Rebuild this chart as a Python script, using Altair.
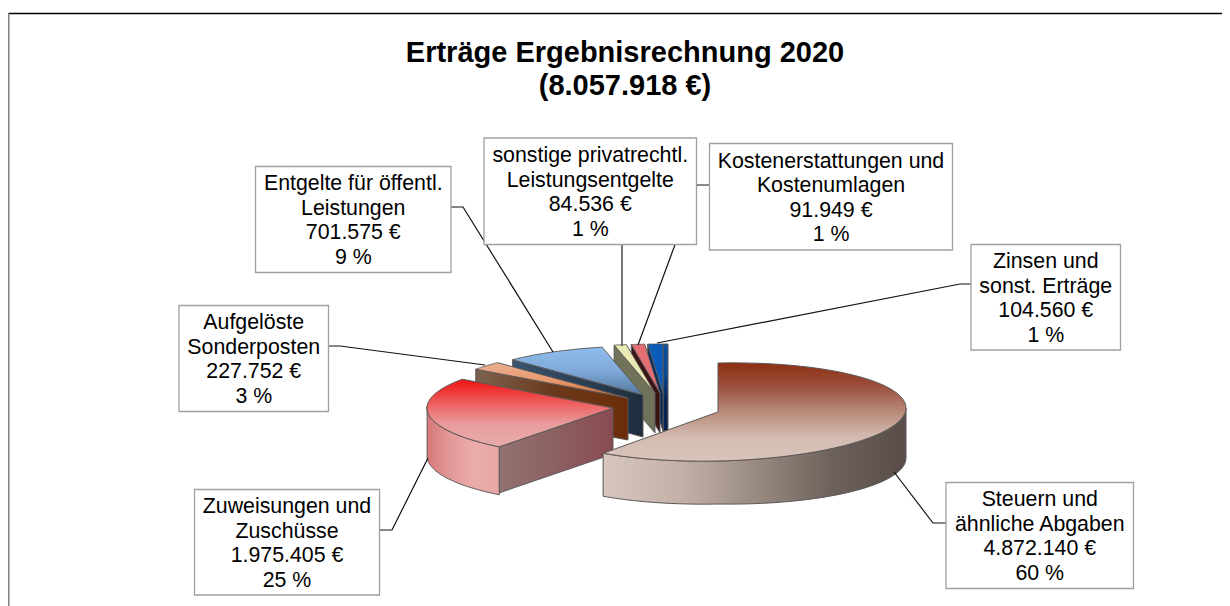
import math
import altair as alt

TITLE = "Erträge Ergebnisrechnung 2020\n(8.057.918 €)"
CATEGORIES = ["Steuern und\nähnliche Abgaben", "Zuweisungen und\nZuschüsse", "Aufgelöste\nSonderposten",
              "Entgelte für öffentl.\nLeistungen", "sonstige privatrechtl.\nLeistungsentgelte",
              "Kostenerstattungen und\nKostenumlagen", "Zinsen und\nsonst. Erträge"]
VALUES = [4872140, 1975405, 227752, 701575, 84536, 91949, 104560]
VALUE_TEXT = ["4.872.140 €", "1.975.405 €", "227.752 €", "701.575 €", "84.536 €", "91.949 €", "104.560 €"]
PERCENT_TEXT = ["60 %", "25 %", "3 %", "9 %", "1 %", "1 %", "1 %"]

W, H = 1214, 598
xs = alt.Scale(domain=[8, 8 + W], range=[0, W], nice=False, zero=False)
ys = alt.Scale(domain=[8, 8 + H], range=[0, H], nice=False, zero=False)
X = alt.X("x:Q", scale=xs, axis=None)
Y = alt.Y("y:Q", scale=ys, axis=None)
X2 = alt.X2("x2:Q")
Y2 = alt.Y2("y2:Q")


def grad(colors, horizontal=False):
    n = len(colors) - 1
    stops = [alt.GradientStop(color=c, offset=i / n) for i, c in enumerate(colors)]
    return alt.Gradient(gradient="linear", stops=stops, x1=0, y1=0,
                        x2=1 if horizontal else 0, y2=0 if horizontal else 1)


def poly(points, fill, stroke="#5c5858", width=1.0):
    pts = list(points) + [points[0]]
    rows = [{"x": p[0], "y": p[1], "o": i} for i, p in enumerate(pts)]
    return alt.Chart(alt.Data(values=rows)).mark_line(
        fill=fill, stroke=stroke, strokeWidth=width, strokeJoin="round", clip=False
    ).encode(x=X, y=Y, order=alt.Order("o:Q"))


def path(points, color="#111111", width=1.2):
    rows = [{"x": p[0], "y": p[1], "o": i} for i, p in enumerate(points)]
    return alt.Chart(alt.Data(values=rows)).mark_line(stroke=color, strokeWidth=width).encode(
        x=X, y=Y, order=alt.Order("o:Q"))


# angles of the slices from the values
total = sum(VALUES)
ang = [0]
for v in VALUES:
    ang.append(ang[-1] + v / total * 360)

RX, RY = 188, 49
# exploded centres and depth per slice
CENTRE = [(718, 412, 43), (613, 408, 46), (628, 398, 42), (643, 395, 42), (655, 393, 40), (660, 393, 40), (663, 393, 38)]


def pt(i, a, rx=RX, tilt=0.0, dy=0.0):
    cx, cy, _ = CENTRE[i]
    r = math.radians(a)
    return (cx + rx * math.sin(r), cy - RY * math.cos(r) - tilt * math.sin(r) + dy)


def arc(i, a0, a1, n=60, **k):
    return [pt(i, a0 + (a1 - a0) * j / n, **k) for j in range(n + 1)]


def top(i, fill, **k):
    return poly([CENTRE[i][:2]] + arc(i, ang[i], ang[i + 1], **k), fill)


def face(i, a, fill):
    cx, cy, d = CENTRE[i]
    p = pt(i, a)
    return poly([p, (cx, cy), (cx, cy + d), (p[0], p[1] + d)], fill)


layers = []

# Zinsen (back)
c = CENTRE[6]
p = pt(6, 360)
layers.append(poly([(p[0], p[1]), (p[0] + 5, p[1]), (p[0] + 5, c[1] + c[2]), (p[0], c[1] + c[2])],
                   grad(["#0b4f9e", "#0b4a96", "#04224e", "#04224e"])))
layers.append(face(6, ang[6], "#05285a"))
layers.append(top(6, "#0a5cba"))
# Kosten
layers.append(face(5, ang[5], "#3a1414"))
layers.append(top(5, "#e46f72"))
# sonstige
layers.append(face(4, ang[4], "#70725a"))
layers.append(top(4, "#e9e9b4"))
# Entgelte
layers.append(face(3, ang[3], grad(["#3a546e", "#1e2d3d"], True)))
layers.append(top(3, grad(["#8fbdee", "#7fa9d8", "#54789e"])))
# Aufgeloeste
layers.append(face(2, ang[2], grad(["#7c6250", "#6a3a1c", "#6b2d08"], True)))
layers.append(top(2, grad(["#eab092", "#e89a70", "#d9662a"])))
# Zuweisungen
cx, cy, d = CENTRE[1]
RR = 186
rim = arc(1, ang[1], 272, rx=RR)
layers.append(poly(rim + [(p_[0], p_[1] + d + 2) for p_ in reversed(rim)],
                   grad(["#d67878", "#e39a9a", "#ebacac", "#e8a6a6"], True)))
p = pt(1, ang[1], rx=RR)
layers.append(poly([p, (cx, cy), (cx, cy + d), (p[0], p[1] + d)], grad(["#927272", "#8c6060", "#884a50"], True)))
layers.append(top(1, grad(["#f01212", "#ee5a5a", "#e99c9c", "#e8adad"]), rx=RR))
# Steuern (front)
rim_top = arc(0, 90, ang[1], tilt=4)
rim_bottom = []
for j in range(61):
    a = 90 + (ang[1] - 90) * j / 60
    q = pt(0, a, tilt=4)
    rim_bottom.append((q[0], q[1] + 43 + 7 * max(0.0, math.sin(math.radians(a)))))
layers.append(poly(rim_top + list(reversed(rim_bottom)),
                   grad(["#d6c6be", "#c4b2a8", "#9a8c82", "#6e625c", "#584c48"], True)))
layers.append(top(0, grad(["#8e2e10", "#9c5240", "#b98a7a", "#d3bbb0", "#d8c4bb"]), tilt=4))

# leader lines
layers.append(path([(946, 523), (933, 523), (894, 472)]))
layers.append(path([(379, 530), (392, 530), (428, 458)]))
layers.append(path([(328, 346), (340, 346), (485, 365)]))
layers.append(path([(451, 207), (463, 207), (553, 352)]))
layers.append(path([(622, 245), (622, 346)], "#555555", 1.6))
layers.append(path([(709, 185), (697, 185), (638, 345)]))
layers.append(path([(971, 284), (960, 284), (657, 343)]))

# label boxes
LH = 24.5
BOX = [(946, 482.5, 1133.5, 588.5), (194.5, 489.5, 379.5, 595), (179, 305.5, 328.5, 411.5),
       (255.5, 166.5, 451, 272.5), (484, 138, 696.5, 244.5), (709.5, 143.5, 952.5, 250), (971, 244.5, 1120.5, 350)]
rows = []
for k, b in enumerate(BOX):
    rows.append({"x": b[0], "y": b[1], "x2": b[2], "y2": b[3],
                 "tx": (b[0] + b[2]) / 2, "ty": (b[1] + b[3]) / 2 - 1.5 * LH + 1.5,
                 "t": CATEGORIES[k] + "\n" + VALUE_TEXT[k] + "\n" + PERCENT_TEXT[k]})
boxes = alt.Data(values=rows)
layers.append(alt.Chart(boxes).mark_rect(fill="white", stroke="#a0a0a0", strokeWidth=1.3).encode(
    x=X, y=Y, x2=X2, y2=Y2))
layers.append(alt.Chart(boxes).mark_text(font="Liberation Sans", fontSize=21.33, lineBreak="\n", lineHeight=LH,
                                         align="center", baseline="middle", color="#000000").encode(
    x=alt.X("tx:Q", scale=xs, axis=None), y=alt.Y("ty:Q", scale=ys, axis=None), text="t:N"))

# title
layers.append(alt.Chart(alt.Data(values=[{"x": 625, "y": 53, "t": TITLE}])).mark_text(
    font="Liberation Sans", fontSize=29, fontWeight="bold", lineBreak="\n", lineHeight=33,
    align="center", baseline="middle", color="#000000").encode(x=X, y=Y, text="t:N"))

# chart frame
layers.append(path([(8.5, 13.5), (1222, 13.5)], "#000000", 1.5))
layers.append(path([(8.5, 13.5), (8.5, 606)], "#808080", 2))

chart = alt.layer(*layers).properties(
    width=W, height=H, padding=0, autosize=alt.AutoSizeParams(type="none"),
).configure_view(stroke=None)

chart.save("out.html", embed_options={"renderer": "svg", "actions": False})
